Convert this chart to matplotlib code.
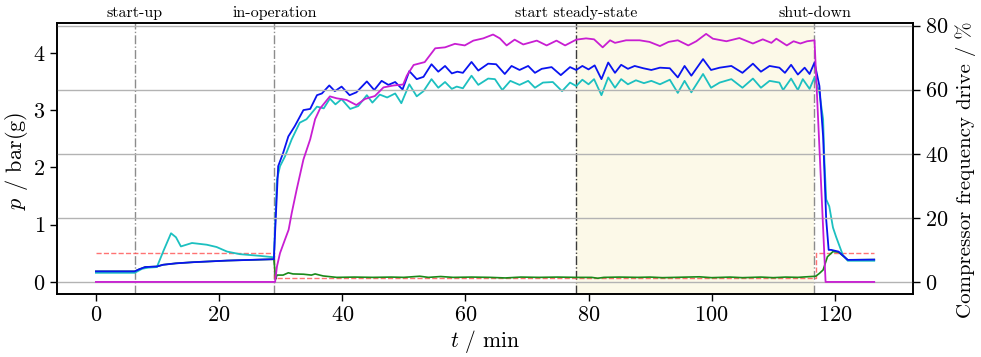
import matplotlib
matplotlib.use("Agg")
import matplotlib.pyplot as plt
import matplotlib.transforms as mtransforms

plt.rcParams["font.family"] = ["cmr10", "DejaVu Serif"]
plt.rcParams["mathtext.fontset"] = "cm"
plt.rcParams["axes.formatter.use_mathtext"] = True
plt.rcParams["axes.unicode_minus"] = False

# ---- pressure transducer readings (bar(g)) ----
t_blue = [0, 6.3, 7.0, 8.0, 9.9, 10.9, 13, 15.8, 21.3, 28.9, 29.2, 29.6, 30.4, 31.25, 32.3,
          33.7, 34.8, 35.9, 36.7, 37.9, 38.8, 39.9, 41.2, 42.3, 44.0, 45.2, 46.4, 47.5, 48.6,
          49.8, 50.9, 52.1, 53.2, 54.5, 55.6, 56.7, 57.8, 58.7, 59.6, 61.0, 62.1, 63.7, 65.0,
          66.4, 67.5, 68.8, 70.2, 71.3, 72.4, 74.0, 75.5, 77.0, 78.0, 79.0, 80.0, 81.0, 82.1,
          83.2, 84.3, 85.3, 86.4, 87.5, 88.9, 90.2, 91.6, 93.2, 94.5, 95.6, 96.7, 98.6, 99.9,
          101.3, 103.2, 105.0, 106.7, 108.0, 109.4, 111.0, 111.9, 112.9, 114.0, 115.1, 115.9,
          116.7, 117.5, 118.1, 118.6, 119.0, 119.4, 120.6, 122.1, 126.4]
p_blue = [0.185, 0.185, 0.22, 0.26, 0.27, 0.30, 0.325, 0.345, 0.373, 0.397, 1.1, 2.02, 2.25, 2.54, 2.72,
          3.0, 3.02, 3.26, 3.29, 3.43, 3.33, 3.41, 3.26, 3.31, 3.50, 3.35, 3.51, 3.44, 3.49,
          3.36, 3.68, 3.54, 3.58, 3.80, 3.67, 3.77, 3.64, 3.67, 3.65, 3.84, 3.69, 3.81, 3.80,
          3.63, 3.77, 3.70, 3.77, 3.65, 3.72, 3.75, 3.61, 3.75, 3.70, 3.77, 3.71, 3.78, 3.54,
          3.83, 3.65, 3.79, 3.72, 3.77, 3.73, 3.70, 3.74, 3.73, 3.57, 3.77, 3.60, 3.89, 3.70,
          3.74, 3.77, 3.65, 3.81, 3.67, 3.77, 3.74, 3.65, 3.79, 3.62, 3.74, 3.63,
          3.83, 3.42, 2.54, 1.09, 0.56, 0.56, 0.53, 0.385, 0.39]

t_cyan = [0, 6.3, 7.5, 8.5, 9.9, 11.0, 12.2, 13.0, 13.8, 15.6, 18.0, 19.6, 21.3, 23.4, 26.7,
          28.9, 29.4, 29.9, 30.7, 31.8, 33.1, 34.2, 35.9, 37.0, 38.0, 38.9, 39.9, 41.3, 42.6,
          44.0, 44.9, 46.1, 47.3, 48.6, 49.6, 50.9, 52.1, 53.2, 54.5, 55.6, 56.7, 57.8, 58.6,
          59.6, 61.0, 62.1, 63.7, 64.8, 66.0, 67.3, 68.8, 70.2, 71.3, 72.6, 74.2, 75.7, 77.0,
          78.0, 79.0, 80.0, 80.9, 82.1, 83.2, 84.3, 85.3, 86.4, 87.7, 89.0, 90.2, 91.6, 93.2,
          94.5, 95.6, 96.7, 98.6, 99.9, 101.3, 103.2, 105.0, 106.7, 108.0, 109.4, 111.0, 111.6,
          112.9, 114.0, 114.8, 115.9, 116.7, 117.5, 118.1, 118.3, 118.6, 119.1, 119.7, 120.2,
          121.3, 122.1, 126.4]
p_cyan = [0.16, 0.16, 0.23, 0.25, 0.26, 0.55, 0.85, 0.78, 0.62, 0.68, 0.65, 0.61, 0.53, 0.485, 0.455,
          0.43, 1.79, 2.02, 2.19, 2.49, 2.78, 2.84, 3.06, 3.03, 3.20, 3.10, 3.19, 3.02, 3.07,
          3.26, 3.13, 3.27, 3.22, 3.29, 3.12, 3.45, 3.24, 3.33, 3.54, 3.39, 3.49, 3.37, 3.41,
          3.38, 3.60, 3.44, 3.55, 3.54, 3.35, 3.51, 3.44, 3.51, 3.39, 3.48, 3.49, 3.33, 3.48,
          3.42, 3.53, 3.45, 3.54, 3.26, 3.57, 3.39, 3.54, 3.45, 3.52, 3.47, 3.51, 3.45, 3.53,
          3.30, 3.51, 3.31, 3.63, 3.39, 3.48, 3.54, 3.39, 3.55, 3.39, 3.51, 3.48, 3.35,
          3.55, 3.35, 3.54, 3.37, 3.57, 3.30, 2.84, 2.14, 1.44, 1.32, 0.95, 0.79,
          0.47, 0.37, 0.37]

t_green = [0, 6.3, 7.0, 8.0, 9.9, 10.9, 13, 15.8, 21.3, 28.9, 29.2, 29.4, 30.4, 31.25, 32.0, 33.7,
           35.0, 35.6, 36.9, 39.1, 42, 45, 48, 50, 52.6, 54, 56, 58, 61, 64, 66.5, 69, 72, 75,
           78, 80.5, 81.5, 82.5, 85, 88, 90, 92, 94, 96, 98, 100, 103, 105, 108, 110, 112, 114,
           115.4, 116.9, 117.5, 118.1, 118.8, 119.7, 120.6, 122.1, 126.4]
p_green = [0.185, 0.185, 0.22, 0.26, 0.27, 0.30, 0.325, 0.345, 0.373, 0.397, 0.05, 0.12, 0.12, 0.16, 0.14, 0.135,
           0.12, 0.14, 0.105, 0.08, 0.085, 0.08, 0.085, 0.08, 0.10, 0.08, 0.095, 0.08, 0.085, 0.08, 0.07, 0.085, 0.08, 0.085,
           0.08, 0.08, 0.065, 0.08, 0.085, 0.08, 0.085, 0.075, 0.08, 0.085, 0.09, 0.075, 0.085, 0.075, 0.085, 0.075, 0.085, 0.08,
           0.09, 0.10, 0.15, 0.21, 0.44, 0.53, 0.52, 0.385, 0.39]

# set-point / threshold (bar(g))
t_setp = [0, 29.0, 29.0, 117.0, 117.0, 126.4]
p_setp = [0.5, 0.5, 0.075, 0.075, 0.5, 0.5]

# ---- compressor frequency drive (%) ----
t_comp = [0, 29.1, 29.4, 29.9, 30.7, 31.3, 31.8, 32.6, 33.7, 34.8, 35.6, 36.4, 38.0, 39.1, 40.7,
          42.3, 43.7, 45.3, 46.7, 48.3, 49.9, 50.5, 51.6, 53.4, 55.1, 56.7, 58.3, 59.9, 61.3,
          62.9, 64.5, 65.6, 66.7, 68.0, 69.4, 71.6, 73.2, 74.8, 76.2, 78.0, 79.6, 80.9, 82.3,
          83.5, 84.3, 86.1, 88.3, 89.9, 91.6, 93.0, 94.5, 96.2, 97.5, 99.1, 100.2, 102.4, 104.5,
          106.7, 108.3, 109.7, 110.5, 112.2, 113.3, 114.4, 115.5, 116.7, 118.5, 126.4]
f_comp = [0, 0, 4.8, 9.0, 13.2, 16.3, 21.5, 28.8, 38.2, 44.5, 50.8, 54.1, 57.9, 57.3, 56.8,
          55.2, 57.1, 58.0, 60.7, 61.3, 61.6, 64.4, 67.7, 68.6, 72.9, 73.2, 74.3, 73.8, 75.3,
          76.0, 77.2, 76.0, 73.8, 75.6, 74.1, 75.3, 73.8, 75.3, 73.8, 75.6, 76.0, 75.7, 73.2,
          75.4, 74.6, 75.4, 75.4, 74.9, 73.6, 74.9, 75.4, 73.8, 75.1, 77.4, 75.9, 75.1, 76.1,
          74.4, 75.7, 74.6, 75.9, 73.8, 75.1, 74.4, 75.1, 75.4, 0, 0]

# phase markers
phase_t = [6.3, 29.0, 78.0, 116.7]
phase_labels = ["start-up", "in-operation", "start steady-state", "shut-down"]
steady_span = (78.0, 116.7)

fig = plt.figure(figsize=(9.81, 3.57), dpi=100)
ax = fig.add_axes([0.0581, 0.1765, 0.8726, 0.7591])
ax2 = ax.twinx()

ax.axvspan(*steady_span, color="#fcf9e8", zorder=0, lw=0)
for x, lab in zip(phase_t, phase_labels):
    c = "#3a3a3a" if lab == "start steady-state" else "#8c8c8c"
    ax.axvline(x, color=c, ls="-.", lw=1.0, zorder=1)
    ax.text(x, 1.012, lab, transform=mtransforms.blended_transform_factory(ax.transData, ax.transAxes),
            ha="center", va="bottom", fontsize=11.5)

ax.plot(t_setp, p_setp, color="#ff5050", ls="--", lw=1.0, alpha=0.8, zorder=2)
ax.plot(t_green, p_green, color="#1a8a1a", lw=1.2, zorder=3)
ax.plot(t_cyan, p_cyan, color="#1cc0c0", lw=1.3, zorder=4)
ax.plot(t_blue, p_blue, color="#0a14f0", lw=1.3, zorder=5)

ax2.plot(t_comp, f_comp, color="#c81ed2", lw=1.3)
ax2.grid(True, axis="y", color="#b3b3b3", lw=1.0)
ax2.set_axisbelow(True)

ax.set_xlim(-6.32, 132.7)
ax.set_ylim(-0.21, 4.52)
ax2.set_ylim(-3.76, 80.8)
ax.set_xticks([0, 20, 40, 60, 80, 100, 120])
ax.set_yticks([0, 1, 2, 3, 4])
ax2.set_yticks([0, 20, 40, 60, 80])

for a in (ax, ax2):
    a.tick_params(labelsize=16, length=5, width=1.0, direction="out")
    for s in a.spines.values():
        s.set_linewidth(1.2)

ax.set_xlabel("$t$ / min", fontsize=15.5, labelpad=2)
ax.set_ylabel("$p$ / bar(g)", fontsize=16)
ax2.set_ylabel("Compressor frequency drive / %", fontsize=15)
ax.yaxis.set_label_coords(-0.032, 0.49)
ax2.yaxis.set_label_coords(1.049, 0.46)

fig.savefig("out.png", dpi=100)
